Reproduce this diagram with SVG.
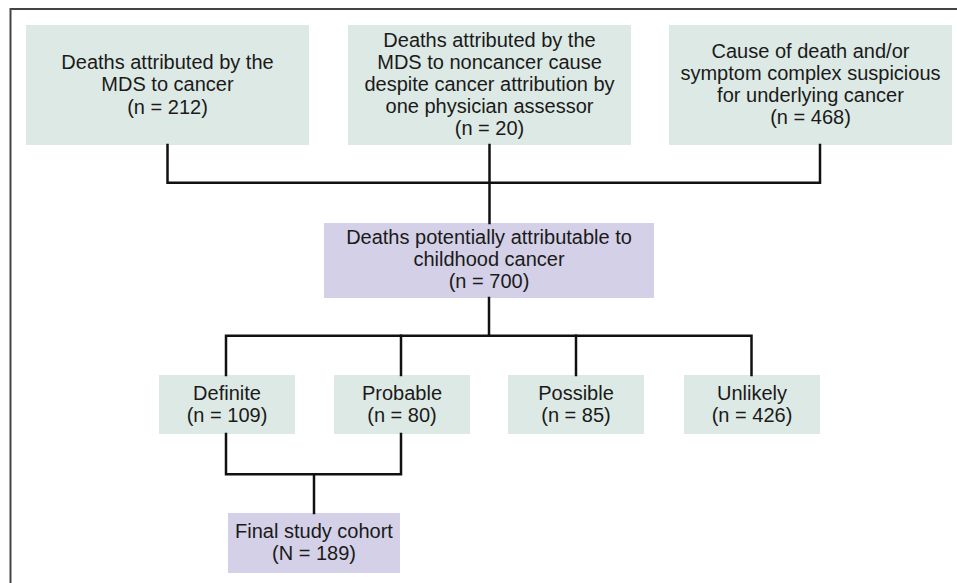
<svg xmlns="http://www.w3.org/2000/svg" width="957" height="583" viewBox="0 0 957 583">
<style>
.g{fill:#dde9e4}
.p{fill:#d3d0e7}
text{font-family:"Liberation Sans",Arial,sans-serif;font-size:20px;fill:#1a1a1a;text-anchor:middle}
.c{fill:none;stroke:#111;stroke-width:2.5;stroke-linecap:square}
</style>
<rect width="957" height="583" fill="#fff"/>
<path d="M10.5 583 V9 H957" fill="none" stroke="#444" stroke-width="2"/>
<g id="n1"><rect class="g" x="26" y="25" width="283" height="120"/>
<text x="167.5" y="69">Deaths attributed by the</text><text x="167.5" y="91">MDS to cancer</text><text x="167.5" y="113.5">(n = 212)</text></g>
<g id="n2"><rect class="g" x="348" y="25" width="283" height="120"/>
<text x="489.5" y="47">Deaths attributed by the</text><text x="489.5" y="69">MDS to noncancer cause</text><text x="489.5" y="91">despite cancer attribution by</text><text x="489.5" y="113">one physician assessor</text><text x="489.5" y="135">(n = 20)</text></g>
<g id="n3"><rect class="g" x="669" y="25" width="283" height="120"/>
<text x="810.5" y="58">Cause of death and/or</text><text x="810.5" y="80">symptom complex suspicious</text><text x="810.5" y="102">for underlying cancer</text><text x="810.5" y="124">(n = 468)</text></g>
<g id="n4"><rect class="p" x="324" y="223" width="330" height="75"/>
<text x="489" y="244">Deaths potentially attributable to</text><text x="489" y="266">childhood cancer</text><text x="489" y="288">(n = 700)</text></g>
<g id="n5"><rect class="g" x="159" y="375" width="136" height="59"/>
<text x="227" y="400">Definite</text><text x="227" y="422">(n = 109)</text></g>
<g id="n6"><rect class="g" x="334" y="375" width="136" height="59"/>
<text x="402" y="400">Probable</text><text x="402" y="422">(n = 80)</text></g>
<g id="n7"><rect class="g" x="508" y="375" width="136" height="59"/>
<text x="576" y="400">Possible</text><text x="576" y="422">(n = 85)</text></g>
<g id="n8"><rect class="g" x="684" y="375" width="136" height="59"/>
<text x="752" y="400">Unlikely</text><text x="752" y="422">(n = 426)</text></g>
<g id="n9"><rect class="p" x="228" y="513" width="172" height="60"/>
<text x="314" y="538">Final study cohort</text><text x="314" y="560">(N = 189)</text></g>
<g id="connectors">
<path class="c" d="M167.5 145 V182.7 H820 V145"/>
<path class="c" d="M489.5 145 V223"/>
<path class="c" d="M489 298 V335.7"/>
<path class="c" d="M226 375 V335.7 H751.5 V375"/>
<path class="c" d="M401 335.7 V375"/>
<path class="c" d="M576 335.7 V375"/>
<path class="c" d="M226 434 V474.3 H401 V434"/>
<path class="c" d="M314 474.3 V513"/>
</g>
</svg>
